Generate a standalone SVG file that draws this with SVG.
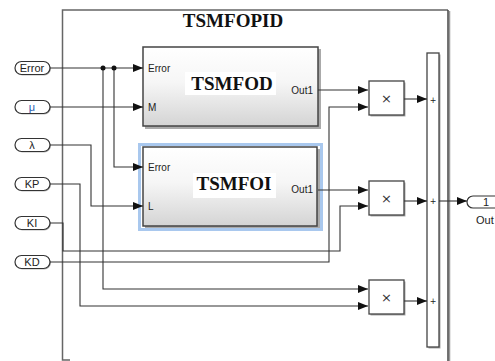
<svg xmlns="http://www.w3.org/2000/svg" width="495" height="361" viewBox="0 0 495 361">
<defs>
<linearGradient id="blk" x1="0" y1="0" x2="0" y2="1">
<stop offset="0" stop-color="#ffffff"/>
<stop offset="0.45" stop-color="#f6f6f6"/>
<stop offset="1" stop-color="#d4d4d4"/>
</linearGradient>
<marker id="arr" markerUnits="userSpaceOnUse" markerWidth="10" markerHeight="8" refX="10" refY="4" orient="auto">
<path d="M0,0 L10,4 L0,8 z" fill="#111"/>
</marker>
</defs>
<style>
.port{fill:#fff;stroke:#333;stroke-width:1.2}
.pshadow{fill:#bbb}
.ptxt{font-family:"Liberation Sans",Arial,sans-serif;font-size:11px;fill:#222;text-anchor:middle}
.lbl{font-family:"Liberation Sans",Arial,sans-serif;font-size:10px;fill:#222}
.big{font-family:"Liberation Serif","Times New Roman",serif;font-weight:bold;font-size:19px;fill:#111;text-anchor:middle}
.box{fill:url(#blk);stroke:#444;stroke-width:1.5}
.shadow{fill:#aaa}
.prod{fill:#fff;stroke:#444;stroke-width:1.3}
.wa{fill:none;stroke:#333;stroke-width:1.1;marker-end:url(#arr)}
.sym{font-family:"DejaVu Sans",sans-serif;font-size:13px;fill:#333;text-anchor:middle}
.plus{font-family:"DejaVu Sans",sans-serif;font-size:8px;fill:#222;text-anchor:middle}
</style>
<rect width="495" height="361" fill="#fff"/>

<g id="frame">
<path d="M70,360 H62.5 V10 H448" fill="none" stroke="#666" stroke-width="1.5"/>
<line x1="449.5" y1="11" x2="449.5" y2="361" stroke="#999" stroke-width="1.5"/>
<line x1="448" y1="10" x2="448" y2="361" stroke="#444" stroke-width="1.5"/>
<text class="big" x="233" y="27">TSMFOPID</text>
</g>

<g id="in-error">
<rect class="pshadow" x="16" y="62.5" width="35" height="13" rx="6.5"/>
<rect class="port" x="15" y="61.5" width="35" height="13" rx="6.5"/>
<text class="ptxt" x="32" y="72">Error</text>
</g>
<g id="in-mu">
<rect class="pshadow" x="16" y="101.5" width="35" height="13" rx="6.5"/>
<rect class="port" x="15" y="100.5" width="35" height="13" rx="6.5"/>
<text class="ptxt" x="32" y="111" style="fill:#2a5db0">μ</text>
</g>
<g id="in-lambda">
<rect class="pshadow" x="16" y="139.5" width="35" height="13" rx="6.5"/>
<rect class="port" x="15" y="138.5" width="35" height="13" rx="6.5"/>
<text class="ptxt" x="32" y="149">λ</text>
</g>
<g id="in-kp">
<rect class="pshadow" x="16" y="178.5" width="35" height="13" rx="6.5"/>
<rect class="port" x="15" y="177.5" width="35" height="13" rx="6.5"/>
<text class="ptxt" x="32" y="188">KP</text>
</g>
<g id="in-ki">
<rect class="pshadow" x="16" y="217.5" width="35" height="13" rx="6.5"/>
<rect class="port" x="15" y="216.5" width="35" height="13" rx="6.5"/>
<text class="ptxt" x="32" y="227">KI</text>
</g>
<g id="in-kd">
<rect class="pshadow" x="16" y="256.5" width="35" height="13" rx="6.5"/>
<rect class="port" x="15" y="255.5" width="35" height="13" rx="6.5"/>
<text class="ptxt" x="32" y="266">KD</text>
</g>

<g id="tsmfod">
<rect class="shadow" x="145" y="49" width="176" height="80"/>
<rect class="box" x="143" y="47" width="175" height="79"/>
<rect x="185" y="72" width="91" height="23" fill="#fff"/>
<text class="big" x="232" y="90">TSMFOD</text>
<text class="lbl" x="148" y="72">Error</text>
<text class="lbl" x="148" y="111">M</text>
<text class="lbl" x="313" y="94" text-anchor="end">Out1</text>
</g>

<g id="tsmfoi">
<rect x="139.5" y="144.5" width="182" height="85" fill="none" stroke="#a9c8ee" stroke-width="3"/>
<rect class="shadow" x="145" y="149" width="175" height="79"/>
<rect class="box" x="143" y="147" width="174" height="79"/>
<rect x="193" y="173" width="83" height="25" fill="#fff"/>
<text class="big" x="234" y="190">TSMFOI</text>
<text class="lbl" x="148" y="171">Error</text>
<text class="lbl" x="148" y="210">L</text>
<text class="lbl" x="313" y="193" text-anchor="end">Out1</text>
</g>

<g id="prod1">
<rect class="shadow" x="370.5" y="82.5" width="35" height="34"/>
<rect class="prod" x="369" y="81" width="35" height="34"/>
<text class="sym" x="386.5" y="102.5">×</text>
</g>
<g id="prod2">
<rect class="shadow" x="370.5" y="182.5" width="35" height="34"/>
<rect class="prod" x="369" y="181" width="35" height="34"/>
<text class="sym" x="386.5" y="202.5">×</text>
</g>
<g id="prod3">
<rect class="shadow" x="370.5" y="281.5" width="35" height="34"/>
<rect class="prod" x="369" y="280" width="35" height="34"/>
<text class="sym" x="386.5" y="301.5">×</text>
</g>

<g id="sum">
<rect class="shadow" x="428.5" y="54.5" width="12" height="294"/>
<rect class="prod" x="427" y="53" width="12" height="294"/>
<text class="plus" x="433" y="103">+</text>
<text class="plus" x="433" y="204">+</text>
<text class="plus" x="433" y="304">+</text>
</g>

<g id="out1">
<path d="M473,196 H500 V208 H473 A6,6 0 0 1 473,196 Z" fill="#fff" stroke="#333" stroke-width="1.2"/>
<text class="ptxt" x="486" y="205.5">1</text>
<text class="lbl" x="476" y="224" style="font-size:11px">Out</text>
</g>

<g id="connectors">
<path class="wa" d="M50,68 H143"/>
<path class="wa" d="M114,68 V167 H143"/>
<path class="wa" d="M103,68 V289 H368"/>
<circle cx="103" cy="68" r="2.5" fill="#111"/>
<circle cx="114" cy="68" r="2.5" fill="#111"/>
<path class="wa" d="M50,107 H143"/>
<path class="wa" d="M50,145 H91 V206 H143"/>
<path class="wa" d="M50,184 H80 V306 H368"/>
<path class="wa" d="M50,223 H63 V251 H340 V206 H368"/>
<path class="wa" d="M50,262 H329 V107 H368"/>
<path class="wa" d="M318,90 H368"/>
<path class="wa" d="M318,190 H368"/>
<path class="wa" d="M404,99 H427"/>
<path class="wa" d="M404,201 H427"/>
<path class="wa" d="M404,301 H427"/>
<path class="wa" d="M439,201 H467"/>
</g>
</svg>
